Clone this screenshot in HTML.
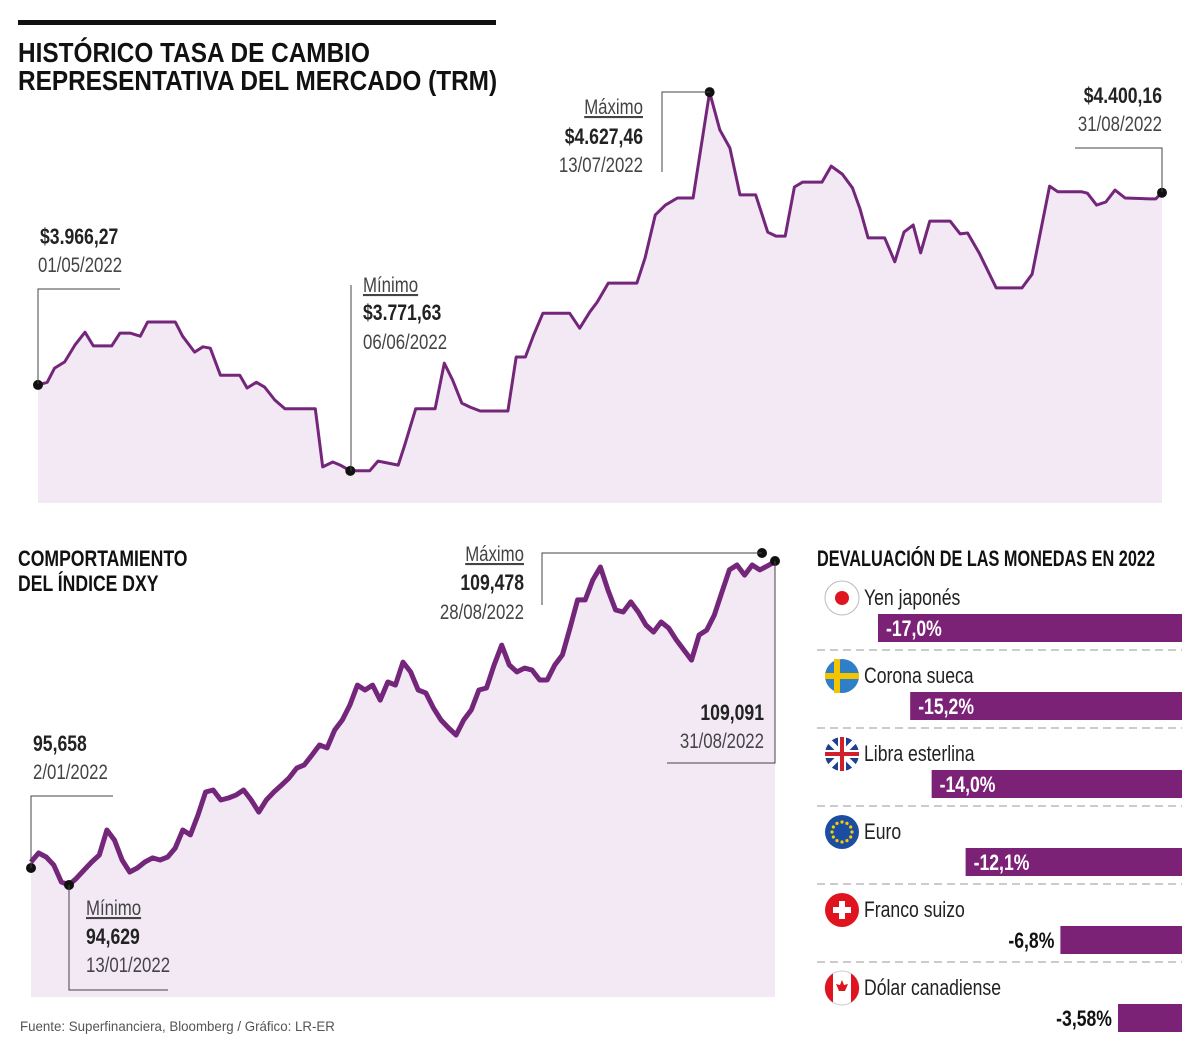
<!DOCTYPE html>
<html><head><meta charset="utf-8"><style>
html,body{margin:0;padding:0;background:#fff;}
svg{display:block;font-family:"Liberation Sans Narrow","Liberation Sans",sans-serif;}
.b{font-weight:bold;}
</style></head><body>
<svg id="s" width="1200" height="1058" viewBox="0 0 1200 1058">
<rect x="18" y="20" width="478" height="5" fill="#111"/>
<text x="18" y="62" font-size="28" class="b" fill="#111" data-sx="0.87">HISTÓRICO TASA DE CAMBIO</text>
<text x="18" y="90" font-size="28" class="b" fill="#111" data-sx="0.87">REPRESENTATIVA DEL MERCADO (TRM)</text>
<g id="trm"></g>
<g fill="#222">
<path d="M38 384V289H120" fill="none" stroke="#444" stroke-width="1"/>
<text x="40" y="244" font-size="22" class="b">$3.966,27</text>
<text x="38" y="272" font-size="21" fill="#444">01/05/2022</text>
<path d="M351 471V285" fill="none" stroke="#444" stroke-width="1"/>
<text x="363" y="292" font-size="21" fill="#444" text-decoration="underline">Mínimo</text>
<text x="363" y="320" font-size="22" class="b">$3.771,63</text>
<text x="363" y="349" font-size="21" fill="#444">06/06/2022</text>
<path d="M662 172V92H710" fill="none" stroke="#444" stroke-width="1"/>
<text x="643" y="114" font-size="21" fill="#444" text-anchor="end" text-decoration="underline">Máximo</text>
<text x="643" y="144" font-size="22" class="b" text-anchor="end">$4.627,46</text>
<text x="643" y="172" font-size="21" fill="#444" text-anchor="end">13/07/2022</text>
<path d="M1075 148H1162V192" fill="none" stroke="#444" stroke-width="1"/>
<text x="1162" y="103" font-size="22" class="b" text-anchor="end">$4.400,16</text>
<text x="1162" y="131" font-size="21" fill="#444" text-anchor="end">31/08/2022</text>
</g>
<text x="18" y="566" font-size="22" class="b" fill="#111">COMPORTAMIENTO</text>
<text x="18" y="591" font-size="22" class="b" fill="#111">DEL ÍNDICE DXY</text>
<g id="dxy"></g>
<g fill="#222">
<path d="M31 868V796H113" fill="none" stroke="#444" stroke-width="1"/>
<text x="33" y="751" font-size="22" class="b">95,658</text>
<text x="33" y="779" font-size="21" fill="#444">2/01/2022</text>
<path d="M69 885V990H168" fill="none" stroke="#444" stroke-width="1"/>
<text x="86" y="915" font-size="21" fill="#444" text-decoration="underline">Mínimo</text>
<text x="86" y="944" font-size="22" class="b">94,629</text>
<text x="86" y="972" font-size="21" fill="#444">13/01/2022</text>
<path d="M542 605V553H762" fill="none" stroke="#444" stroke-width="1"/>
<text x="524" y="561" font-size="21" fill="#444" text-anchor="end" text-decoration="underline">Máximo</text>
<text x="524" y="590" font-size="22" class="b" text-anchor="end">109,478</text>
<text x="524" y="619" font-size="21" fill="#444" text-anchor="end">28/08/2022</text>
<path d="M667 763H775V561" fill="none" stroke="#444" stroke-width="1"/>
<text x="764" y="720" font-size="22" class="b" text-anchor="end">109,091</text>
<text x="764" y="748" font-size="21" fill="#444" text-anchor="end">31/08/2022</text>
</g>
<text x="817" y="566" font-size="22" class="b" fill="#111" data-sx="0.74">DEVALUACIÓN DE LAS MONEDAS EN 2022</text>
<g id="bars"></g>
<text x="20" y="1031" font-size="14" fill="#555" data-sx="0.95" font-family="Liberation Sans, sans-serif">Fuente: Superfinanciera, Bloomberg / Gráfico: LR-ER</text>
</svg>
<script>
const NS='http://www.w3.org/2000/svg';
const trmDays=[0,1.0,1.8,2.9,4.0,5.1,6.0,8.0,8.9,10.0,11.1,11.9,14.9,15.7,17.0,17.9,18.7,19.8,21.9,22.7,23.7,24.6,25.7,26.8,30.1,30.9,32.0,32.8,33.9,36.0,36.9,39.1,39.8,41.0,43.1,44.1,45.0,46.0,46.9,48.0,51.0,51.9,52.9,53.8,54.8,57.7,58.8,59.9,60.7,61.9,65.0,65.9,67.0,68.1,69.4,71.1,72.9,74.0,75.1,76.2,77.9,79.2,80.1,81.1,82.1,83.0,85.1,86.1,87.3,88.4,89.2,90.1,91.9,93.0,94.0,95.0,95.8,96.8,99.0,100.1,100.9,102.2,104.0,106.8,107.9,109.8,110.7,113.3,113.9,114.9,115.9,116.9,118.0,120.7,121.3,122];
const trmValues=[3966,3972,4004,4018,4056,4085,4054,4054,4083,4083,4076,4108,4108,4076,4040,4052,4049,3988,3988,3959,3972,3961,3932,3912,3912,3781,3792,3785,3772,3772,3794,3785,3830,3912,3912,4015,3977,3925,3916,3907,3907,4029,4029,4079,4128,4128,4094,4131,4153,4196,4196,4253,4350,4372,4388,4388,4627,4542,4501,4395,4395,4311,4302,4302,4413,4424,4424,4460,4442,4411,4365,4298,4298,4244,4311,4327,4264,4336,4336,4307,4309,4262,4185,4185,4216,4415,4402,4402,4399,4372,4379,4406,4388,4386,4386,4400];
const dxyValues=[95.66,96.06,95.88,95.52,94.76,94.63,94.94,95.30,95.66,95.97,97.09,96.64,95.75,95.21,95.39,95.66,95.84,95.75,95.88,96.28,97.09,96.87,97.76,98.79,98.88,98.43,98.52,98.65,98.88,98.43,97.89,98.43,98.79,99.10,99.42,99.86,100.00,100.44,100.89,100.76,101.56,102.01,102.68,103.57,103.35,103.57,102.90,103.71,103.57,104.60,104.16,103.35,103.22,102.55,102.01,101.65,101.34,102.01,102.46,103.35,103.44,104.47,105.36,104.47,104.16,104.33,104.24,103.80,103.80,104.47,104.92,106.12,107.38,107.38,108.27,108.85,107.82,106.93,106.84,107.29,106.84,106.26,105.94,106.39,106.12,105.59,105.14,104.69,105.81,106.03,106.70,107.73,108.72,108.94,108.49,108.94,108.72,108.90,109.09];
const currencies=['Yen japonés','Corona sueca','Libra esterlina','Euro','Franco suizo','Dólar canadiense'];
const devaluation=[-17.0,-15.2,-14.0,-12.1,-6.8,-3.58];
const devLabels=['-17,0%','-15,2%','-14,0%','-12,1%','-6,8%','-3,58%'];

function el(tag,attrs,parent){const e=document.createElementNS(NS,tag);for(const k in attrs)e.setAttribute(k,attrs[k]);parent.appendChild(e);return e;}

const tx=d=>38+d*(1124/122), ty=v=>471-(v-3771.63)/2.258;
const trm=document.getElementById('trm');
let p=trmDays.map((d,i)=>tx(d).toFixed(1)+','+ty(trmValues[i]).toFixed(1));
const ta=el('polygon',{points:'38,503 '+p.join(' ')+' 1162,503',fill:'#f2e9f5'},trm);


const tl=el('polyline',{points:p.join(' '),fill:'none',stroke:'#74267a','stroke-width':3,'stroke-linejoin':'round'},trm);


[0,28,56,trmDays.length-1].forEach(i=>{
  const c=el('circle',{cx:tx(trmDays[i]),cy:ty(trmValues[i]),r:5,fill:'#111'},trm);
  
  
});

const n=dxyValues.length;
const dx=i=>31+i*744/(n-1), dy=v=>885-(v-94.63)*22.36;
const dxy=document.getElementById('dxy');
let q=dxyValues.map((v,i)=>dx(i).toFixed(1)+','+dy(v).toFixed(1));
const da=el('polygon',{points:'31,997 '+q.join(' ')+' 775,997',fill:'#f2e9f5'},dxy);


const dl=el('polyline',{points:q.join(' '),fill:'none',stroke:'#74267a','stroke-width':5,'stroke-linejoin':'round'},dxy);


[[31,868],[69,885],[762,553],[775,561]].forEach(([x,y])=>{
  const c=el('circle',{cx:x,cy:y,r:5,fill:'#111'},dxy);
  
  
});

const bars=document.getElementById('bars');
const bx=v=>1182+v*(304/17);
const flagDraw=[
 (g,cx,cy)=>{el('circle',{cx,cy,r:17,fill:'#fff',stroke:'#bbb','stroke-width':1},g);el('circle',{cx,cy,r:7,fill:'#e0141e'},g);},
 (g,cx,cy)=>{el('circle',{cx,cy,r:17,fill:'#2f7fc8'},g);el('rect',{x:cx-17,y:cy-3,width:34,height:6,fill:'#f5c400'},g);el('rect',{x:cx-8,y:cy-17,width:6,height:34,fill:'#f5c400'},g);},
 (g,cx,cy)=>{el('circle',{cx,cy,r:17,fill:'#1f3f8f'},g);el('path',{d:`M${cx-12} ${cy-12}L${cx+12} ${cy+12}M${cx+12} ${cy-12}L${cx-12} ${cy+12}`,stroke:'#fff','stroke-width':5},g);el('rect',{x:cx-17,y:cy-4,width:34,height:8,fill:'#fff'},g);el('rect',{x:cx-4,y:cy-17,width:8,height:34,fill:'#fff'},g);el('rect',{x:cx-17,y:cy-2,width:34,height:4,fill:'#d0202c'},g);el('rect',{x:cx-2,y:cy-17,width:4,height:34,fill:'#d0202c'},g);},
 (g,cx,cy)=>{el('circle',{cx,cy,r:17,fill:'#1c4da1'},g);for(let k=0;k<12;k++){const a=k*Math.PI/6;el('circle',{cx:cx+10*Math.cos(a),cy:cy+10*Math.sin(a),r:1.6,fill:'#f5d000'},g);}},
 (g,cx,cy)=>{el('circle',{cx,cy,r:17,fill:'#e0141e'},g);el('rect',{x:cx-9,y:cy-3,width:18,height:6,fill:'#fff'},g);el('rect',{x:cx-3,y:cy-9,width:6,height:18,fill:'#fff'},g);},
 (g,cx,cy)=>{el('circle',{cx,cy,r:17,fill:'#fff',stroke:'#ccc','stroke-width':1},g);el('path',{d:`M${cx-17} ${cy}A17 17 0 0 1 ${cx-9} ${cy-14.5}V${cy+14.5}A17 17 0 0 1 ${cx-17} ${cy}Z M${cx+17} ${cy}A17 17 0 0 0 ${cx+9} ${cy-14.5}V${cy+14.5}A17 17 0 0 0 ${cx+17} ${cy}Z`,fill:'#e0141e'},g);el('path',{d:`M${cx} ${cy-8}L${cx+2} ${cy-3}L${cx+6} ${cy-4}L${cx+3} ${cy+3}H${cx-3}L${cx-6} ${cy-4}L${cx-2} ${cy-3}Z`,fill:'#e0141e'},g);}
];
currencies.forEach((name,i)=>{
  const y0=614+i*78;
  const g=el('g',{},bars);
  
  
  flagDraw[i](g,842,y0-16);
  const t=el('text',{x:864,y:y0-9,'font-size':22,fill:'#222'},g);t.textContent=name;
  
  
  const x0=bx(devaluation[i]);
  const r=el('rect',{x:x0,y:y0,width:1182-x0,height:28,fill:'#7b2277'},g);
  
  
  const inside=i<4;
  const lt=el('text',{x:inside?x0+8:x0-6,y:y0+22,'font-size':22,'font-weight':'bold',fill:inside?'#fff':'#111','text-anchor':inside?'start':'end'},g);
  lt.textContent=devLabels[i];
  
  
  if(i<5){const s=el('line',{x1:817,x2:1182,y1:y0+36,y2:y0+36,stroke:'#999','stroke-dasharray':'8 5','stroke-width':1},g);
    
    }
});

document.querySelectorAll('#s text').forEach(t=>{
  const f=parseFloat(t.getAttribute('data-sx')||'0.8');
  const w=t.getComputedTextLength();
  if(w>0){t.setAttribute('textLength',(w*f).toFixed(1));t.setAttribute('lengthAdjust','spacingAndGlyphs');}
});
</script>
</body></html>
